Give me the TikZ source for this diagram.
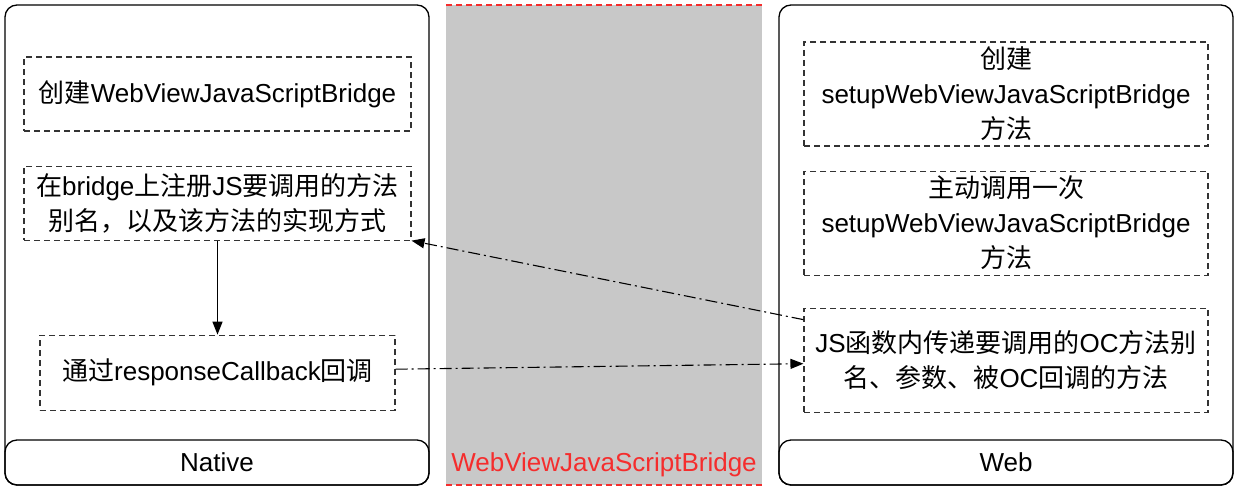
\documentclass[tikz,border=0pt]{standalone}
\usepackage{fontspec}
\setmainfont{Liberation Sans}
\newfontfamily\cjk{Noto Sans CJK SC}
\newcommand{\zh}[1]{{\cjk #1}}
\usetikzlibrary{positioning,arrows.meta}
\definecolor{bridgered}{RGB}{245,45,45}
\definecolor{bandgray}{RGB}{200,200,200}

\begin{document}
\begin{tikzpicture}[x=1pt,y=-1pt,font=\fontsize{26}{35}\selectfont,
  panel/.style={draw,line width=1.3pt,rounded corners=12pt,inner sep=0pt},
  box/.style={draw=black!80,dash pattern=on 6pt off 4pt,line width=1.1pt,align=center,inner sep=0pt,minimum width=387pt,minimum height=74pt},
  call/.style={line width=1.1pt,dash pattern=on 12pt off 4pt on 2pt off 4pt,-{Triangle[length=13pt,width=10pt]}}]
\useasboundingbox (0,0) rectangle (1240,490);
% middle band
\fill[bandgray] (446,5) rectangle (762,485);
\draw[bridgered,line width=1.2pt,dash pattern=on 6pt off 4pt] (446,5) -- (762,5) (446,485) -- (762,485);
\node[bridgered] (bridge) at (604,465) {WebViewJavaScriptBridge};
% panels
\node[panel,minimum width=424pt,minimum height=480pt] (native) at (217,245) {};
\node[panel,minimum width=424pt,minimum height=45pt,anchor=south] (nlabel) at (native.south) {Native};
\node[panel,minimum width=454pt,minimum height=480pt] (web) at (1006,245) {};
\node[panel,minimum width=454pt,minimum height=45pt,anchor=south] (wlabel) at (web.south) {Web};
% native side
\node[box] (n1) at (217.5,94) {\zh{创建}WebViewJavaScriptBridge};
\node[box,below=34pt of n1] (n2) {\zh{在}bridge\zh{上注册}JS\zh{要调用的方法}\\\zh{别名，以及该方法的实现方式}};
\node[box,minimum width=355pt,minimum height=75pt,below=94pt of n2] (n3) {\zh{通过}responseCallback\zh{回调}};
% web side
\node[box,minimum width=404pt,minimum height=104pt] (w1) at (1006,94) {\zh{创建}\\setupWebViewJavaScriptBridge\\\zh{方法}};
\node[box,minimum width=404pt,minimum height=104pt,below=24pt of w1] (w2) {\zh{主动调用一次}\\setupWebViewJavaScriptBridge\\\zh{方法}};
\node[box,minimum width=404pt,minimum height=104pt,below=32pt of w2] (w3) {JS\zh{函数内传递要调用的}OC\zh{方法别}\\\zh{名、参数、被}OC\zh{回调的方法}};
\draw[-{Triangle[length=13pt,width=10pt]},line width=1.1pt] (n2) -- (n3);
\draw[call] ([yshift=-12pt]w3.north west) -- (n2.south east);
\draw[call] ([yshift=3.5pt]n3.east) -- ([yshift=-3.5pt]w3.west);
\end{tikzpicture}
\end{document}
